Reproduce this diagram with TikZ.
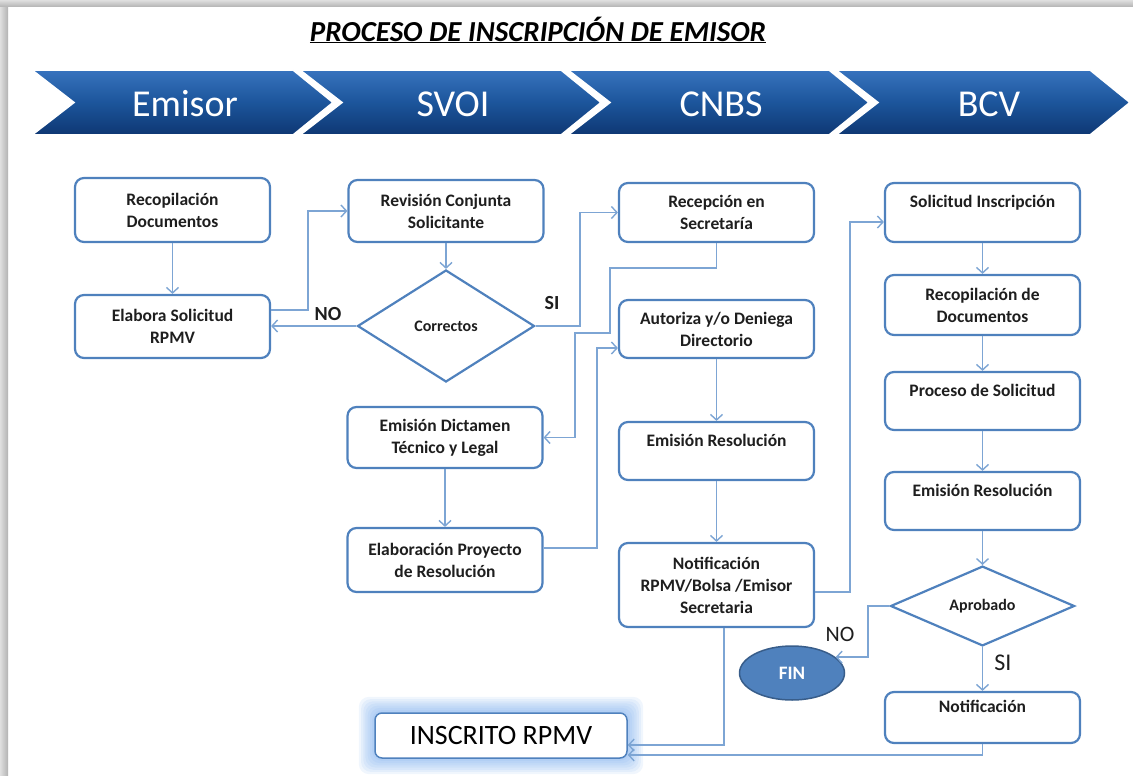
\documentclass[tikz,border=0pt]{standalone}
\usepackage{fontspec}
\setmainfont{Carlito}
\usetikzlibrary{shapes.geometric,arrows.meta,backgrounds,calc}
\definecolor{boxblue}{RGB}{79,129,189}
\definecolor{lineblue}{RGB}{125,165,212}
\definecolor{txt}{RGB}{30,30,30}
\definecolor{chevtop}{RGB}{55,115,190}
\definecolor{chevmid}{RGB}{28,85,155}
\definecolor{chevbot}{RGB}{14,55,115}
\definecolor{finfill}{RGB}{79,129,189}
\definecolor{finborder}{RGB}{56,93,138}
\definecolor{glowblue}{RGB}{110,165,235}
\begin{document}
\begin{tikzpicture}[x=1pt,y=-1pt,
  box/.style={draw=boxblue, line width=2.2pt, fill=white, rounded corners=9pt, minimum width=195pt, align=center, text=txt, font=\bfseries\fontsize{17.5}{22}\selectfont, inner sep=2pt},
  dmd/.style={diamond, draw=boxblue, line width=2.2pt, fill=white, inner sep=0pt, text=txt, font=\bfseries\fontsize{16}{18}\selectfont},
  arr/.style={draw=lineblue, line width=1.4pt, -{Straight Barb[length=5.5pt,width=12pt,line width=1.4pt]}},
  lbl/.style={font=\bfseries\fontsize{20}{22}\selectfont, text=txt, inner sep=0pt},
  chev/.style={text=white, font=\fontsize{38}{40}\selectfont, inner sep=0pt}
]
\useasboundingbox (0,0) rectangle (1133,776);
% page frame
\shade[left color=gray!25, right color=gray!60] (0,0) rectangle (8,776);
\shade[top color=gray!25, bottom color=gray!60] (0,0) rectangle (1133,7);

% title
\node[font=\bfseries\itshape\fontsize{29}{32}\selectfont, text=black] (title) at (538,30) {\underline{PROCESO DE INSCRIPCIÓN DE EMISOR}};

% chevrons
\foreach \i/\t in {0/Emisor,1/SVOI,2/CNBS,3/BCV} {
  \pgfmathsetmacro\L{32+268*\i}
  \pgfmathsetmacro\R{\i==3 ? 1090 : 293+268*\i}
  \shadedraw[top color=chevtop, bottom color=chevbot, middle color=chevmid, draw=white, line width=1.6pt]
    (\L,70) -- (\R,70) -- (\R+40,102.5) -- (\R,135) -- (\L,135) -- (\L+42,102.5) -- cycle;
  \node[chev] (c\i) at (185+268*\i,104) {\t};
}

% boxes
\node[box, minimum height=64pt] (rd) at (172.5,210) {Recopilación\\Documentos};
\node[box, minimum height=63pt] (es) at (172.5,326.5) {Elabora Solicitud\\RPMV};
\node[box, minimum height=62pt] (rc) at (446,211) {Revisión Conjunta\\Solicitante};
\node[dmd, minimum width=177pt, minimum height=112pt] (co) at (446,326) {Correctos};
\node[box, minimum height=61pt] (ed) at (445,437.5) {Emisión Dictamen\\Técnico y Legal};
\node[box, minimum height=64pt] (ep) at (445,560) {Elaboración Proyecto\\de Resolución};
\node[box, minimum height=59pt] (rs) at (716.5,212.5) {Recepción en\\Secretaría};
\node[box, minimum height=58pt] (ad) at (716.5,329) {Autoriza y/o Deniega\\Directorio};
\node[box, minimum height=58pt] (er) at (716.5,451) {Emisión Resolución\\\mbox{}};
\node[box, minimum height=84pt] (nt) at (716.5,585) {Notificación\\RPMV/Bolsa /Emisor\\Secretaria};
\node[box, minimum height=59pt] (si) at (982.5,212.5) {Solicitud Inscripción\\\mbox{}};
\node[box, minimum height=60pt] (rdd) at (982.5,305) {Recopilación de\\Documentos};
\node[box, minimum height=58pt] (ps) at (982.5,401) {Proceso de Solicitud\\\mbox{}};
\node[box, minimum height=58pt] (erb) at (982.5,501) {Emisión Resolución\\\mbox{}};
\node[dmd, minimum width=184pt, minimum height=68pt] (ap) at (982.5,606) {Aprobado};
\node[ellipse, fill=finfill, draw=finborder, line width=1.5pt, minimum width=105pt, minimum height=54pt, text=white, font=\bfseries\fontsize{19}{21}\selectfont] (fin) at (792,673) {FIN};
\node[box, minimum height=51pt] (nb) at (982.5,717.5) {Notificación\\\mbox{}};
\node[draw=boxblue, line width=1.5pt, fill=white, rounded corners=7pt, minimum width=252pt, minimum height=45pt, font=\fontsize{28}{30}\selectfont, text=black] (ins) at (501,735.5) {INSCRITO RPMV};

% glow
\begin{scope}[on background layer]
  \foreach \k in {1,...,7}
    \fill[glowblue, opacity=0.10, rounded corners=10pt] ($(ins.south west)+(-\k*2.2,\k*2.2)$) rectangle ($(ins.north east)+(\k*2.2,-\k*2.2)$);
\end{scope}

% connectors
\draw[arr] (rd) -- (es);
\draw[arr] (es.east |- 0,310) -- (308,310) |- (rc.west);
\draw[arr] (rc) -- (co);
\draw[arr] (co.west) -- (es.east |- co.west);
\draw[arr] (co.east) -- (580,326) |- (rs.west);
\draw[arr] (rs.south) -- (716.5,268) -- (610,268) -- (610,333) -- (575,333) |- (ed.east);
\draw[arr] (ed) -- (ep);
\draw[arr] (ep.east |- 0,548) -- (597,548) |- (ad.west |- 0,348);
\draw[arr] (ad) -- (er);
\draw[arr] (er) -- (nt);
\draw[arr] (nt.east |- 0,592) -- (850,592) |- (si.west |- 0,222);
\draw[arr] (si) -- (rdd);
\draw[arr] (rdd) -- (ps);
\draw[arr] (ps) -- (erb);
\draw[arr] (erb) -- (ap);
\draw[arr] (ap.west) -- (868,606) |- (fin.20);
\draw[arr] (ap) -- (nb);
\draw[arr] (nb.south) -- (982.5,755) -- (ins.east |- 0,755);
\draw[arr] (724,0 |- nt.south) -- (724,745) -- (ins.east |- 0,745);

% labels
\node[lbl] (no1) at (328,314) {NO};
\node[lbl] (si1) at (552,303) {SI};
\node[font=\fontsize{22}{24}\selectfont, text=txt, inner sep=0pt] (no2) at (840,634) {NO};
\node[font=\fontsize{24}{26}\selectfont, text=txt, inner sep=0pt] (si2) at (1003,663) {SI};
\end{tikzpicture}
\end{document}
